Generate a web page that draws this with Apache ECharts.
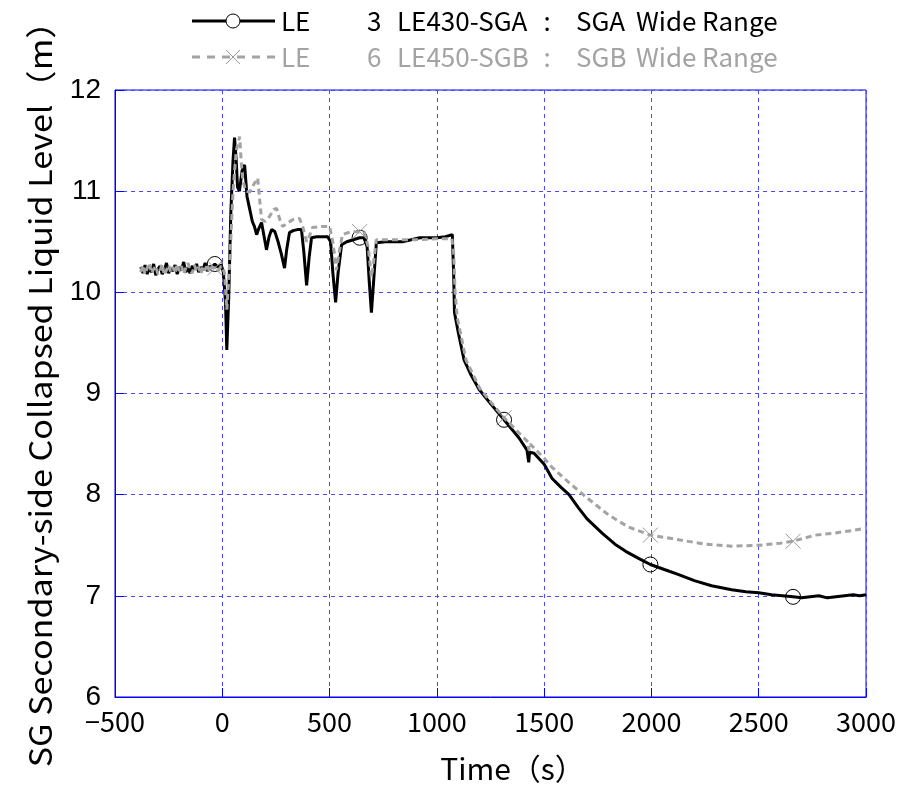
<!DOCTYPE html>
<html>
<head>
<meta charset="utf-8">
<script src="https://cdn.jsdelivr.net/npm/echarts@6/dist/echarts.min.js"></script>
<style>
  html, body { margin: 0; padding: 0; background: #fff; }
  #chart { width: 899px; height: 789px; }
</style>
</head>
<body>
<div id="chart"></div>
<script>
// SGA wide-range collapsed level (s, m)
const timeA = [
  -380, -370, -360, -350, -340, -330, -320, -310, -300, -290, -280, -270, -260, -250, -240,
  -230, -220, -210, -200, -190, -180, -170, -160, -150, -140, -130, -120, -110, -100, -90,
  -80, -70, -60, -50, -35, -20, -5, 5, 15, 21, 30, 40, 50, 57, 65, 71, 80, 92, 104, 115,
  125, 140, 150, 160, 170, 183, 195, 206, 218, 230, 245, 260, 275, 290, 300, 313, 330, 350,
  369, 380, 393, 405, 416, 440, 470, 491, 505, 515, 528, 540, 556, 580, 610, 640, 660, 675,
  685, 695, 705, 718, 760, 800, 839, 880, 920, 951, 1000, 1040, 1072, 1078, 1082, 1100, 1127,
  1160, 1197, 1250, 1313, 1360, 1383, 1420, 1428, 1432, 1453, 1500, 1537, 1580, 1616, 1660,
  1700, 1770, 1830, 1880, 1940, 1995, 2060, 2127, 2200, 2280, 2374, 2440, 2500, 2560, 2610,
  2660, 2700, 2740, 2780, 2820, 2860, 2900, 2940, 2970, 3000
];
const levelA = [
  10.25, 10.19, 10.27, 10.18, 10.24, 10.20, 10.28, 10.17, 10.23, 10.26, 10.18, 10.22, 10.29, 10.19, 10.24,
  10.21, 10.27, 10.18, 10.25, 10.22, 10.30, 10.20, 10.24, 10.19, 10.26, 10.23, 10.28, 10.20, 10.25, 10.22,
  10.29, 10.21, 10.26, 10.24, 10.28, 10.25, 10.27, 10.20, 9.90, 9.43, 9.95, 10.80, 11.30, 11.53, 11.30, 11.04, 11.00, 11.20, 11.26, 10.95,
  10.85, 10.70, 10.65, 10.57, 10.63, 10.69, 10.55, 10.42, 10.55, 10.62, 10.60, 10.50, 10.38, 10.24, 10.42, 10.59, 10.61, 10.62,
  10.62, 10.40, 10.07, 10.35, 10.54, 10.55, 10.55, 10.55, 10.50, 10.20, 9.90, 10.20, 10.47, 10.50, 10.52, 10.54, 10.54, 10.45,
  10.10, 9.80, 10.10, 10.49, 10.50, 10.50, 10.50, 10.52, 10.54, 10.54, 10.54, 10.55, 10.57, 10.20, 9.80, 9.60, 9.33,
  9.18, 9.04, 8.90, 8.74, 8.62, 8.56, 8.44, 8.32, 8.42, 8.41, 8.30, 8.16, 8.07, 8.00, 7.87,
  7.76, 7.62, 7.51, 7.44, 7.37, 7.31, 7.26, 7.21, 7.15, 7.10, 7.06, 7.04, 7.03, 7.01, 7.00,
  6.99, 6.98, 6.99, 7.00, 6.98, 6.99, 7.00, 7.01, 7.00, 7.01
];

// SGB wide-range collapsed level (s, m)
const timeB = [
  -380, -370, -360, -350, -340, -330, -320, -310, -300, -290, -280, -270, -260, -250, -240,
  -230, -220, -210, -200, -190, -180, -170, -160, -150, -140, -130, -120, -110, -100, -90,
  -80, -70, -60, -50, -35, -20, -5, 10, 21, 35, 50, 65, 81, 88, 95, 110, 127, 145, 165, 175,
  183, 200, 220, 240, 253, 268, 281, 300, 330, 360, 375, 393, 405, 420, 460, 500, 515, 532,
  545, 560, 600, 640, 660, 680, 695, 705, 718, 760, 800, 900, 1000, 1070, 1078, 1085, 1095,
  1136, 1200, 1250, 1313, 1383, 1425, 1429, 1435, 1500, 1537, 1616, 1693, 1800, 1893, 1995,
  2111, 2250, 2375, 2500, 2600, 2660, 2764, 2850, 2950, 3000
];
const levelB = [
  10.20, 10.27, 10.18, 10.24, 10.29, 10.19, 10.23, 10.26, 10.18, 10.21, 10.28, 10.17, 10.22, 10.27, 10.20,
  10.25, 10.19, 10.28, 10.21, 10.26, 10.18, 10.24, 10.29, 10.22, 10.19, 10.27, 10.21, 10.25, 10.18, 10.26,
  10.22, 10.28, 10.20, 10.25, 10.24, 10.21, 10.26, 10.20, 9.83, 10.30, 11.00, 11.40, 11.54, 11.30, 11.11, 11.00, 10.99, 11.06, 11.13, 10.90,
  10.72, 10.70, 10.75, 10.82, 10.83, 10.72, 10.65, 10.68, 10.72, 10.73, 10.65, 10.50, 10.55, 10.64, 10.65, 10.65, 10.50, 10.22,
  10.40, 10.57, 10.60, 10.60, 10.60, 10.45, 10.15, 10.30, 10.52, 10.52, 10.52, 10.52, 10.53, 10.53, 10.40, 10.00, 9.75,
  9.33, 9.05, 8.92, 8.76, 8.61, 8.52, 8.44, 8.50, 8.36, 8.27, 8.12, 7.98, 7.80, 7.68, 7.60,
  7.56, 7.51, 7.49, 7.50, 7.52, 7.54, 7.60, 7.62, 7.65, 7.67
];

// times where the series markers sit
const markerTimes = [-35, 640, 1313, 1995, 2660];

// axis settings
const xMin = -500, xMax = 3000, xStep = 500;
const yMin = 6, yMax = 12, yStep = 1;

const FONT_JP = '"Noto Sans CJK JP", "Noto Sans", sans-serif';
const BLUE = '#0000ff';
const GRID_BLUE = '#4a4aff';
const GREY = '#a3a3a3';

function buildData(times, levels) {
  return times.map((t, i) => {
    const item = { value: [t, levels[i]] };
    if (markerTimes.indexOf(t) < 0) item.symbol = 'none';
    return item;
  });
}

const crossPath = 'path://M0,0L10,10M10,0L0,10';

const chart = echarts.init(document.getElementById('chart'), null, { renderer: 'canvas' });

function legendText(x, y, text, color, align) {
  return {
    type: 'text', x: x, y: y,
    style: { text: text, font: '26px ' + FONT_JP, fill: color, verticalAlign: 'middle', align: align || 'left' }
  };
}

const option = {
  animation: false,
  backgroundColor: '#fff',
  grid: {
    left: 115, right: 31, top: 90, bottom: 92,
    show: true, borderColor: BLUE, borderWidth: 1, backgroundColor: 'transparent'
  },
  xAxis: {
    type: 'value',
    min: xMin, max: xMax, interval: xStep,
    name: 'Time（s）',
    nameLocation: 'middle',
    nameGap: 57,
    nameTextStyle: { fontFamily: FONT_JP, fontSize: 30, color: '#000', padding: [0, 0, 0, 44] },
    axisLine: { show: true, onZero: false, lineStyle: { color: BLUE, width: 1 } },
    axisTick: { show: true, inside: true, length: 9, lineStyle: { color: BLUE } },
    axisLabel: {
      fontFamily: FONT_JP, fontSize: 27, color: '#000', margin: 11,
      formatter: v => (v < 0 ? '−' + Math.abs(v) : String(v))
    },
    splitLine: { show: true, lineStyle: { color: [GRID_BLUE], type: [4, 4], width: 1 } }
  },
  yAxis: {
    type: 'value',
    min: yMin, max: yMax, interval: yStep,
    axisLine: { show: true, onZero: false, lineStyle: { color: BLUE, width: 1 } },
    axisTick: { show: true, inside: true, length: 9, lineStyle: { color: BLUE } },
    axisLabel: { fontFamily: '"Liberation Sans", Arial, sans-serif', fontSize: 28, color: '#000', margin: 14 },
    splitLine: { show: true, lineStyle: { color: [GRID_BLUE], type: [4, 4], width: 1 } }
  },
  series: [
    {
      name: 'SGA',
      type: 'line',
      data: buildData(timeA, levelA),
      symbol: 'circle',
      symbolSize: 15,
      showSymbol: true,
      showAllSymbol: true,
      lineStyle: { color: '#000', width: 3 },
      itemStyle: { color: 'rgba(0,0,0,0)', borderColor: '#000', borderWidth: 1 },
      z: 2
    },
    {
      name: 'SGB',
      type: 'line',
      data: buildData(timeB, levelB),
      symbol: crossPath,
      symbolSize: 15,
      showSymbol: true,
      showAllSymbol: true,
      lineStyle: { color: GREY, width: 3, type: [6, 4] },
      itemStyle: { color: 'rgba(0,0,0,0)', borderColor: '#999', borderWidth: 1 },
      z: 3
    }
  ],
  graphic: [
    // y-axis title
    {
      type: 'text', x: 40, y: 386, rotation: Math.PI / 2, scaleX: 1.1,
      style: {
        text: 'SG Secondary-side Collapsed Liquid Level（m）',
        font: '31px ' + FONT_JP, fill: '#000', align: 'center', verticalAlign: 'middle'
      }
    },
    // row 1: SGA key
    { type: 'line', shape: { x1: 192, y1: 21, x2: 275, y2: 21 }, style: { stroke: '#000', lineWidth: 3 } },
    { type: 'circle', shape: { cx: 233, cy: 21, r: 7 }, style: { fill: '#fff', stroke: '#000', lineWidth: 1 } },
    legendText(281, 21, 'LE', '#000'),
    legendText(367, 21, '3', '#000'),
    legendText(397, 21, 'LE430-SGA', '#000'),
    legendText(547, 21, ':', '#000', 'center'),
    legendText(576, 21, 'SGA', '#000'),
    legendText(636, 21, 'Wide', '#000'),
    legendText(702, 21, 'Range', '#000'),
    // row 2: SGB key
    { type: 'line', shape: { x1: 192, y1: 57, x2: 275, y2: 57 }, style: { stroke: GREY, lineWidth: 3, lineDash: [8, 7] } },
    { type: 'line', shape: { x1: 226, y1: 50, x2: 240, y2: 64 }, style: { stroke: '#999', lineWidth: 1 } },
    { type: 'line', shape: { x1: 240, y1: 50, x2: 226, y2: 64 }, style: { stroke: '#999', lineWidth: 1 } },
    legendText(281, 57, 'LE', GREY),
    legendText(367, 57, '6', GREY),
    legendText(397, 57, 'LE450-SGB', GREY),
    legendText(547, 57, ':', GREY, 'center'),
    legendText(576, 57, 'SGB', GREY),
    legendText(636, 57, 'Wide', GREY),
    legendText(702, 57, 'Range', GREY)
  ]
};

chart.setOption(option);
</script>
</body>
</html>
